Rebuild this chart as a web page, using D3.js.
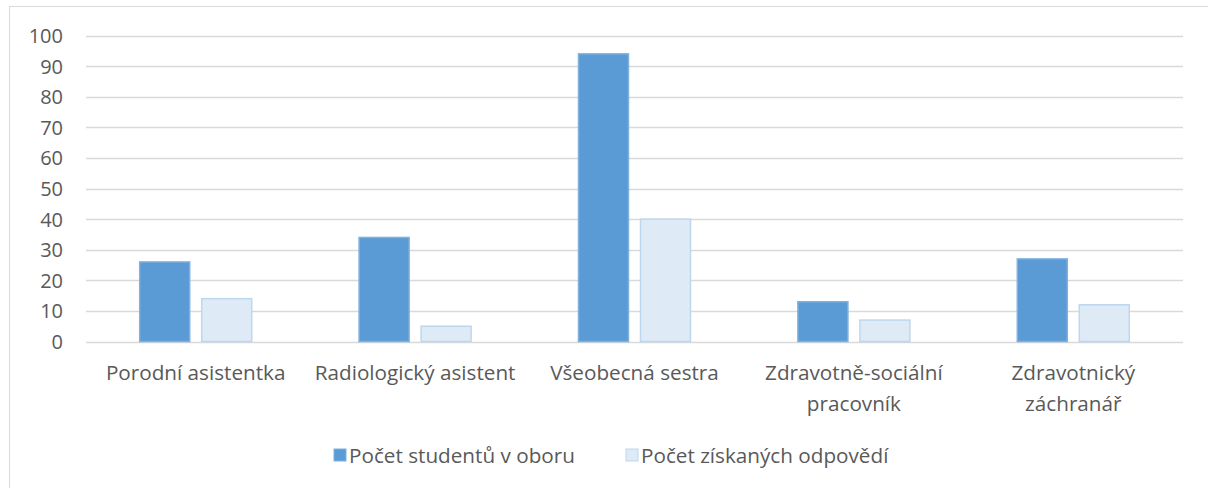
<!DOCTYPE html>
<html><head><meta charset="utf-8">
<script src="https://cdn.jsdelivr.net/npm/d3@7"></script>
<style>body{margin:0;background:#fff}svg{display:block}text{font-family:"Open Sans",sans-serif;fill:#595959}</style>
</head><body><svg id="c" width="1208" height="488"></svg>
<script>
const categories = [["Porodní asistentka"],["Radiologický asistent"],["Všeobecná sestra"],["Zdravotně-sociální","pracovník"],["Zdravotnický","záchranář"]];
const students = [26, 34, 94, 13, 27];
const responses = [14, 5, 40, 7, 12];
const seriesNames = ["Počet studentů v oboru", "Počet získaných odpovědí"];
const yTicks = [0,10,20,30,40,50,60,70,80,90,100];

const svg = d3.select("#c");
svg.append("rect").attr("x",9.5).attr("y",6.5).attr("width",1220).attr("height",500).attr("fill","none").attr("stroke","#d9d9d9");

const L=86, R=1183, T=35.5, B=341.5;
const x = d3.scaleBand().domain(d3.range(categories.length)).range([L,R]);
const y = d3.scaleLinear().domain([0,100]).range([B,T]);

const grid = svg.append("g");
yTicks.forEach(t=>{
  grid.append("line").attr("x1",L).attr("x2",R).attr("y1",Math.round(y(t))+0.5).attr("y2",Math.round(y(t))+0.5).attr("stroke","#d9d9d9").attr("stroke-width",1.5);
});
const yAxis = d3.axisLeft(y).tickValues(yTicks).tickSize(0).tickPadding(0);
const ya = svg.append("g").attr("transform",`translate(63,0)`).call(yAxis);
ya.select(".domain").remove();
ya.selectAll("text").style("font-size","20px").style("font-family","'Open Sans',sans-serif").attr("fill","#595959").attr("dy","0.35em");

const bw=50, gap=12;
const colors=["#5b9bd5","#deeaf6"], strokes=["#7fb0de","#bdd7ee"];
[students,responses].forEach((arr,si)=>{
  svg.append("g").selectAll("rect").data(arr).join("rect")
    .attr("x",(d,i)=>x(i)+x.bandwidth()/2 - (bw+gap/2) + si*(bw+gap))
    .attr("y",d=>y(d)).attr("width",bw).attr("height",d=>B-y(d))
    .attr("fill",colors[si]).attr("stroke",strokes[si]).attr("stroke-width",1.5);
});

const xl = svg.append("g");
categories.forEach((lines,i)=>{
  lines.forEach((ln,j)=>{
    xl.append("text").attr("x",x(i)+x.bandwidth()/2).attr("y",380+j*31).attr("text-anchor","middle").style("font-size","20.7px").text(ln);
  });
});

const lg = svg.append("g");
const lx=[334,626];
seriesNames.forEach((n,i)=>{
  lg.append("rect").attr("x",lx[i]).attr("y",449).attr("width",12).attr("height",12).attr("fill",colors[i]).attr("stroke",strokes[i]);
  lg.append("text").attr("x",lx[i]+15).attr("y",463).style("font-size","20.7px").text(n);
});
</script></body></html>
